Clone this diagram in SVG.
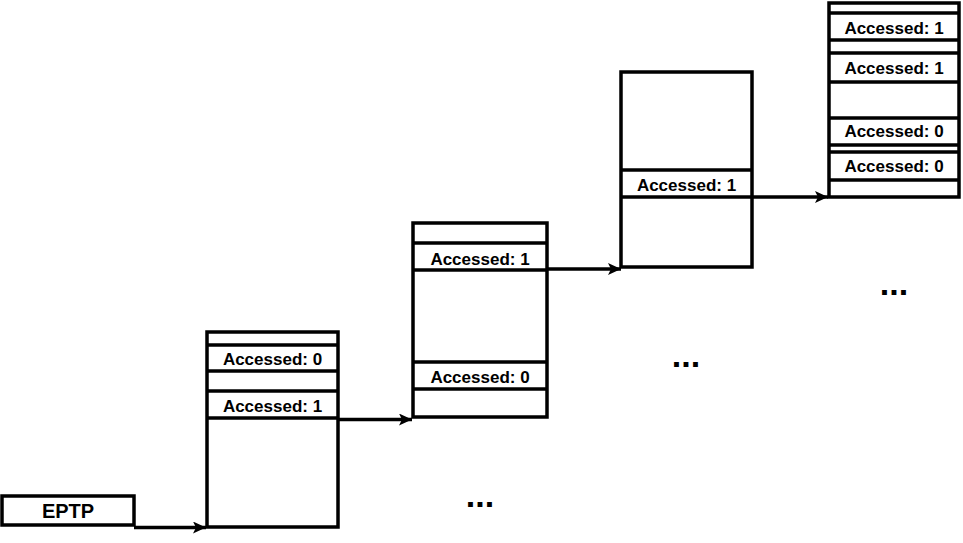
<svg xmlns="http://www.w3.org/2000/svg" width="963" height="543" viewBox="0 0 963 543">
<style>
.box{fill:#fff;stroke:#000;stroke-width:3.5}
.div{stroke:#000;stroke-width:3.5}
.t{font-family:"Liberation Sans",Arial,sans-serif;font-weight:bold;font-size:17px;text-anchor:middle;fill:#000}
.e{font-family:"Liberation Sans",Arial,sans-serif;font-weight:bold;font-size:20px;text-anchor:middle;fill:#000}
.dots{font-family:"Liberation Sans",Arial,sans-serif;font-weight:bold;font-size:34px;text-anchor:middle;fill:#000}
.c{stroke:#000;stroke-width:3.5;fill:none;marker-end:url(#ah)}
</style>
<defs>
<marker id="ah" markerUnits="userSpaceOnUse" markerWidth="14" markerHeight="12" refX="13" refY="6" orient="auto">
<path d="M0,0 L13,6 L0,12 L3,6 Z" fill="#000"/>
</marker>
</defs>
<rect width="963" height="543" fill="#fff"/>
<g id="connectors">
<path class="c" d="M134,527.5 H206"/>
<path class="c" d="M338,419.5 H412"/>
<path class="c" d="M547,269 H621"/>
<path class="c" d="M752,197 H828"/>
</g>
<g id="eptp">
<rect class="box" x="2" y="496" width="132" height="29"/>
<text class="e" x="68" y="518">EPTP</text>
</g>
<g id="table1">
<rect class="box" x="207" y="332" width="131" height="195"/>
<line class="div" x1="207" y1="345" x2="338" y2="345"/>
<line class="div" x1="207" y1="371" x2="338" y2="371"/>
<line class="div" x1="207" y1="391" x2="338" y2="391"/>
<line class="div" x1="207" y1="418" x2="338" y2="418"/>
<text class="t" x="272.5" y="365">Accessed: 0</text>
<text class="t" x="272.5" y="412">Accessed: 1</text>
</g>
<g id="table2">
<rect class="box" x="413" y="223" width="134" height="194"/>
<line class="div" x1="413" y1="243" x2="547" y2="243"/>
<line class="div" x1="413" y1="270" x2="547" y2="270"/>
<line class="div" x1="413" y1="362" x2="547" y2="362"/>
<line class="div" x1="413" y1="389" x2="547" y2="389"/>
<text class="t" x="480" y="265">Accessed: 1</text>
<text class="t" x="480" y="383">Accessed: 0</text>
</g>
<g id="table3">
<rect class="box" x="621" y="72" width="131" height="195"/>
<line class="div" x1="621" y1="170" x2="752" y2="170"/>
<line class="div" x1="621" y1="197" x2="752" y2="197"/>
<text class="t" x="686.5" y="191">Accessed: 1</text>
</g>
<g id="table4">
<rect class="box" x="829" y="3" width="130" height="194"/>
<line class="div" x1="829" y1="13" x2="959" y2="13"/>
<line class="div" x1="829" y1="40" x2="959" y2="40"/>
<line class="div" x1="829" y1="53" x2="959" y2="53"/>
<line class="div" x1="829" y1="82" x2="959" y2="82"/>
<line class="div" x1="829" y1="118" x2="959" y2="118"/>
<line class="div" x1="829" y1="145" x2="959" y2="145"/>
<line class="div" x1="829" y1="152" x2="959" y2="152"/>
<line class="div" x1="829" y1="180" x2="959" y2="180"/>
<text class="t" x="894" y="34">Accessed: 1</text>
<text class="t" x="894" y="74">Accessed: 1</text>
<text class="t" x="894" y="137">Accessed: 0</text>
<text class="t" x="894" y="172">Accessed: 0</text>
</g>
<g id="ellipses">
<text class="dots" x="480" y="507">...</text>
<text class="dots" x="686" y="367">...</text>
<text class="dots" x="894" y="295">...</text>
</g>
</svg>
